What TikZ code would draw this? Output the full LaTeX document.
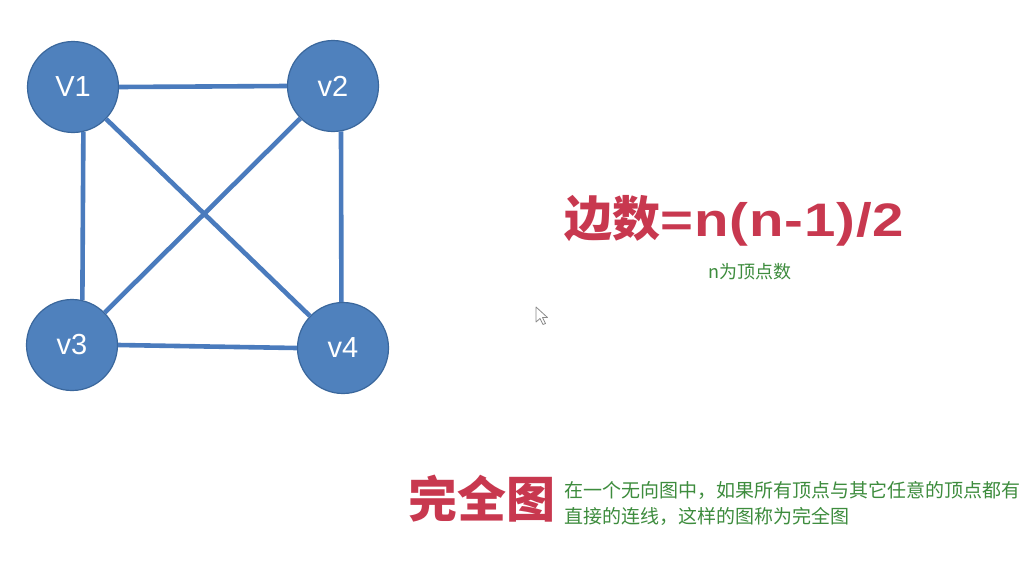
\documentclass[tikz,border=0pt]{standalone}
\usepackage{fontspec}
\setmainfont{Liberation Sans}
\newfontfamily\cjk{Noto Sans CJK SC}
\newfontfamily\latwide{Liberation Sans}[FakeStretch=1.2,LetterSpace=2]
\definecolor{vfill}{HTML}{4F81BD}
\definecolor{vborder}{HTML}{3A679C}
\definecolor{edgec}{HTML}{4A7BBD}
\definecolor{redt}{HTML}{C8384F}
\definecolor{greent}{HTML}{3D8C3D}
\definecolor{cursorc}{HTML}{8A8A8A}
\tikzset{
  vertex/.style={circle, minimum size=91pt, inner sep=0pt, fill=vfill, draw=vborder, line width=1.2pt,
    text=white, font=\fontsize{29pt}{32pt}\selectfont},
  edge/.style={draw=edgec, line width=4.6pt},
  bigred/.style={text=redt, inner sep=0pt, anchor=base west},
  greentext/.style={text=greent, inner sep=0pt}
}
\begin{document}
\begin{tikzpicture}[x=1pt,y=-1pt]
\useasboundingbox[fill=white] (0,0) rectangle (1035,571);
% vertices
\node[vertex] (v1) at (73,87) {V1};
\node[vertex] (v2) at (333,86) {v2};
\node[vertex] (v3) at (72,345) {v3};
\node[vertex] (v4) at (343,348) {v4};
% edges
\draw[edge] (v1.east) -- (v2.west);
\draw[edge] (v1.-77) -- (v3.77);
\draw[edge] (v2.-80) -- (v4.92);
\draw[edge] (v3.east) -- (v4.west);
\draw[edge] (v1) -- (v4);
\draw[edge] (v2) -- (v3);
% formula
\node[bigred] (formula) at (564,236) {{\cjk\bfseries\fontsize{48pt}{52pt}\selectfont 边数}{\latwide\bfseries\fontsize{47pt}{52pt}\selectfont =n(n-1)/2}};
\node[greentext, font=\cjk\fontsize{18pt}{20pt}\selectfont] (note) at (750,272) {n为顶点数};
% complete graph
\node[bigred, anchor=center] (title) at (482,499) {\cjk\bfseries\fontsize{49pt}{52pt}\selectfont 完全图};
\node[greentext, anchor=north west, align=left, font=\cjk\fontsize{19pt}{26pt}\selectfont] (desc) at (564,481)
  {在一个无向图中，如果所有顶点与其它任意的顶点都有\\直接的连线，这样的图称为完全图};
% mouse cursor
\draw[cursorc, fill=white, line width=0.8pt, line join=round]
  (536,307) -- (536,322) -- (540,318.5) -- (543,324.5) -- (545.5,323.5) -- (542.5,317.5) -- (547.5,317.5) -- cycle;
\end{tikzpicture}
\end{document}
